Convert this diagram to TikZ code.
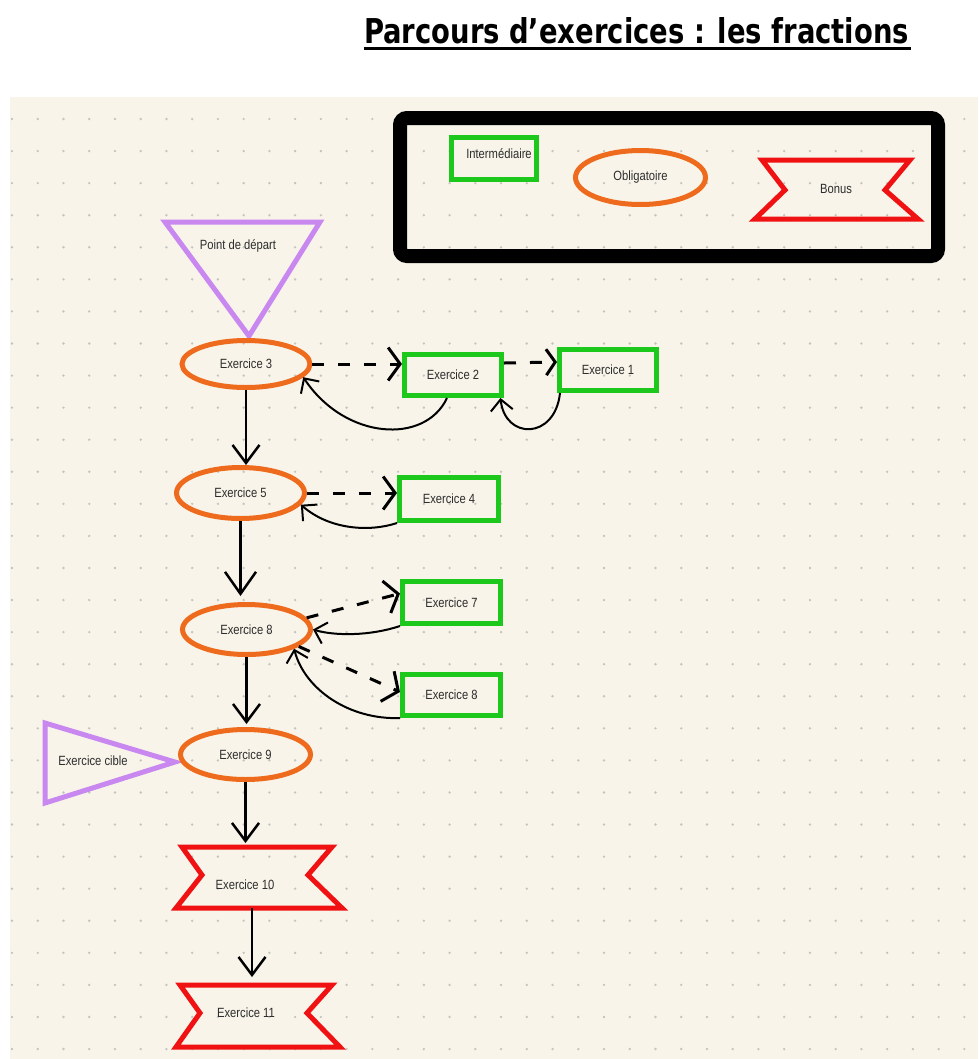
\documentclass[tikz,border=0pt]{standalone}
\usepackage{fontspec}
\setmainfont{Liberation Sans}
\newfontfamily\titlefont{DejaVu Sans}
\usetikzlibrary{arrows.meta,shapes.geometric}
\definecolor{cream}{RGB}{248,244,233}
\definecolor{dotc}{RGB}{196,196,192}
\definecolor{orng}{RGB}{238,106,28}
\definecolor{grn}{RGB}{28,200,28}
\definecolor{rd}{RGB}{240,18,18}
\definecolor{purp}{RGB}{200,136,240}
\definecolor{txtc}{RGB}{45,45,45}
\newcommand\lbtxt[1]{\scalebox{0.84}[1]{#1}}
\begin{document}
\begin{tikzpicture}[x=0.02cm,y=-0.02cm,
  lbl/.style={font=\fontsize{7.6}{9}\selectfont, text=txtc, inner sep=0pt},
  oblig/.style={lbl, ellipse, draw=orng, line width=0.1cm},
  inter/.style={lbl, rectangle, draw=grn, line width=0.1cm},
  bonus/.style={draw=rd, line width=0.1cm, line join=miter},
  depart/.style={draw=purp, line width=0.1cm, line join=miter},
  vtip/.style={-{Straight Barb[length=0.36cm,width=0.54cm]}, line width=0.05cm},
  dtip/.style={-{Straight Barb[length=0.24cm,width=0.66cm]}, line width=0.06cm, dash pattern=on 0.24cm off 0.28cm},
  ctip/.style={-{Straight Barb[length=0.22cm,width=0.44cm]}, line width=0.04cm},
]
\useasboundingbox (0,0) rectangle (978,1059);
\fill[white] (0,0) rectangle (978,1059);
\fill[cream] (10,97) rectangle (978,1059);
\foreach \i in {0,...,37}{\foreach \j in {0,...,29}{\fill[dotc] ({12+25.74*\i},{119+32.07*\j}) circle[radius=0.75pt];}}

% title
\node[anchor=base, inner sep=0pt] (title) at (636.5,43) {\resizebox{10.9cm}{0.52cm}{\titlefont\bfseries Parcours d’exercices : les fractions}};
\draw[line width=0.06cm] ([yshift=-0.1cm]title.base west) -- ([yshift=-0.1cm,xshift=0.04cm]title.base east);

% legend
\draw[line width=0.28cm, rounded corners=0.14cm] (400,118) rectangle (938,256);
\node[inter, minimum width=1.72cm, minimum height=0.84cm] (lgI) at (494,158) {};
\node[lbl] (lgItxt) at (499,154) {\lbtxt{Intermédiaire}};
\node[oblig, minimum width=2.6cm, minimum height=1.08cm] (lgO) at (640.5,177.5) {\lbtxt{Obligatoire}};
\draw[bonus] (762,160) -- (910,160) -- (885,190) -- (918,219) -- (755,219) -- (785,190) -- cycle;
\node[lbl] (lgB) at (836,189) {\lbtxt{Bonus}};

% start triangle
\draw[depart] (165,222) -- (320,222) -- (249,336) -- cycle;
\node[lbl] (pdep) at (238,246) {\lbtxt{Point de départ}};

% target triangle
\draw[depart] (45,723) -- (175,762) -- (45,803) -- cycle;
\node[lbl] (cible) at (93,761) {\lbtxt{Exercice cible}};

% mandatory
\node[oblig, minimum width=2.56cm, minimum height=0.94cm] (e3) at (246,364) {\lbtxt{Exercice 3}};
\node[oblig, minimum width=2.56cm, minimum height=1.02cm] (e5) at (240.5,493) {\lbtxt{Exercice 5}};
\node[oblig, minimum width=2.56cm, minimum height=1.0cm] (e8) at (246.5,629.5) {\lbtxt{Exercice 8}};
\node[oblig, minimum width=2.6cm, minimum height=1.0cm] (e9) at (245.5,754.5) {\lbtxt{Exercice 9}};

% intermediate
\node[inter, minimum width=1.94cm, minimum height=0.82cm] (e2) at (453,375) {\lbtxt{Exercice 2}\hspace{0.2cm}};
\node[inter, minimum width=1.94cm, minimum height=0.82cm] (e1) at (608,370) {\lbtxt{Exercice 1}\hspace{0.2cm}};
\node[inter, minimum width=1.98cm, minimum height=0.86cm] (e4) at (449,499) {\lbtxt{Exercice 4}\hspace{0.16cm}};
\node[inter, minimum width=1.96cm, minimum height=0.84cm] (e7) at (451.5,602.5) {\lbtxt{Exercice 7}\hspace{0.2cm}};
\node[inter, minimum width=1.96cm, minimum height=0.82cm] (e8g) at (451.5,695) {\lbtxt{Exercice 8}\hspace{0.2cm}};

% bonus
\draw[bonus] (182,847) -- (332,847) -- (308,875) -- (342,908) -- (176,908) -- (202,875) -- cycle;
\node[lbl] (e10) at (245,885) {\lbtxt{Exercice 10}};
\coordinate (e10top) at (244,846);
\coordinate (e10bot) at (252,908);
\draw[bonus] (180,985) -- (332,985) -- (307,1013) -- (340,1047) -- (176,1047) -- (200,1013) -- cycle;
\node[lbl] (e11) at (246,1013) {\lbtxt{Exercice 11}};
\coordinate (e11top) at (252,985);

% connectors
\draw[dtip] (e3.east) -- (e3.east -| e2.west);
\draw[dtip, -{Straight Barb[length=0.18cm,width=0.52cm]}] ([yshift=0.24cm]e2.east) -- ([yshift=0.16cm]e1.west);
\draw[ctip] ([xshift=-0.12cm]e2.south) .. controls (425,445) and (345,440) .. (e3.-13);
\draw[ctip] ([xshift=0.06cm]e1.south west) .. controls (555,440) and (505,440) .. ([xshift=-0.07cm]e2.south east);

\draw[vtip] (e3.south) -- (e3.south |- e5.north);
\draw[dtip] (e5.east) -- (e5.east -| e4.west);
\draw[ctip] (e4.south west) .. controls (370,532) and (330,530) .. (e5.-11);

\draw[vtip, -{Straight Barb[length=0.44cm,width=0.62cm]}, shorten >=0.12cm] (e5.south) -- (e5.south |- e8.north);
\draw[dtip] (e8.11) -- ([yshift=0.18cm]e7.west);
\draw[ctip] (e7.south west) .. controls (370,636) and (335,636) .. (e8.east);
\draw[dtip] (e8.-18) -- ([yshift=0.06cm]e8g.west);
\draw[ctip] (e8g.south west) .. controls (350,720) and (305,690) .. (e8.-22);

\draw[vtip, shorten >=0.06cm] (e8.south) -- (e8.south |- e9.north);
\draw[vtip, shorten >=0.06cm] (e9.south) -- (e9.south |- e10top);
\draw[vtip, shorten >=0.16cm] (e10bot) -- (e11top);
\end{tikzpicture}
\end{document}
